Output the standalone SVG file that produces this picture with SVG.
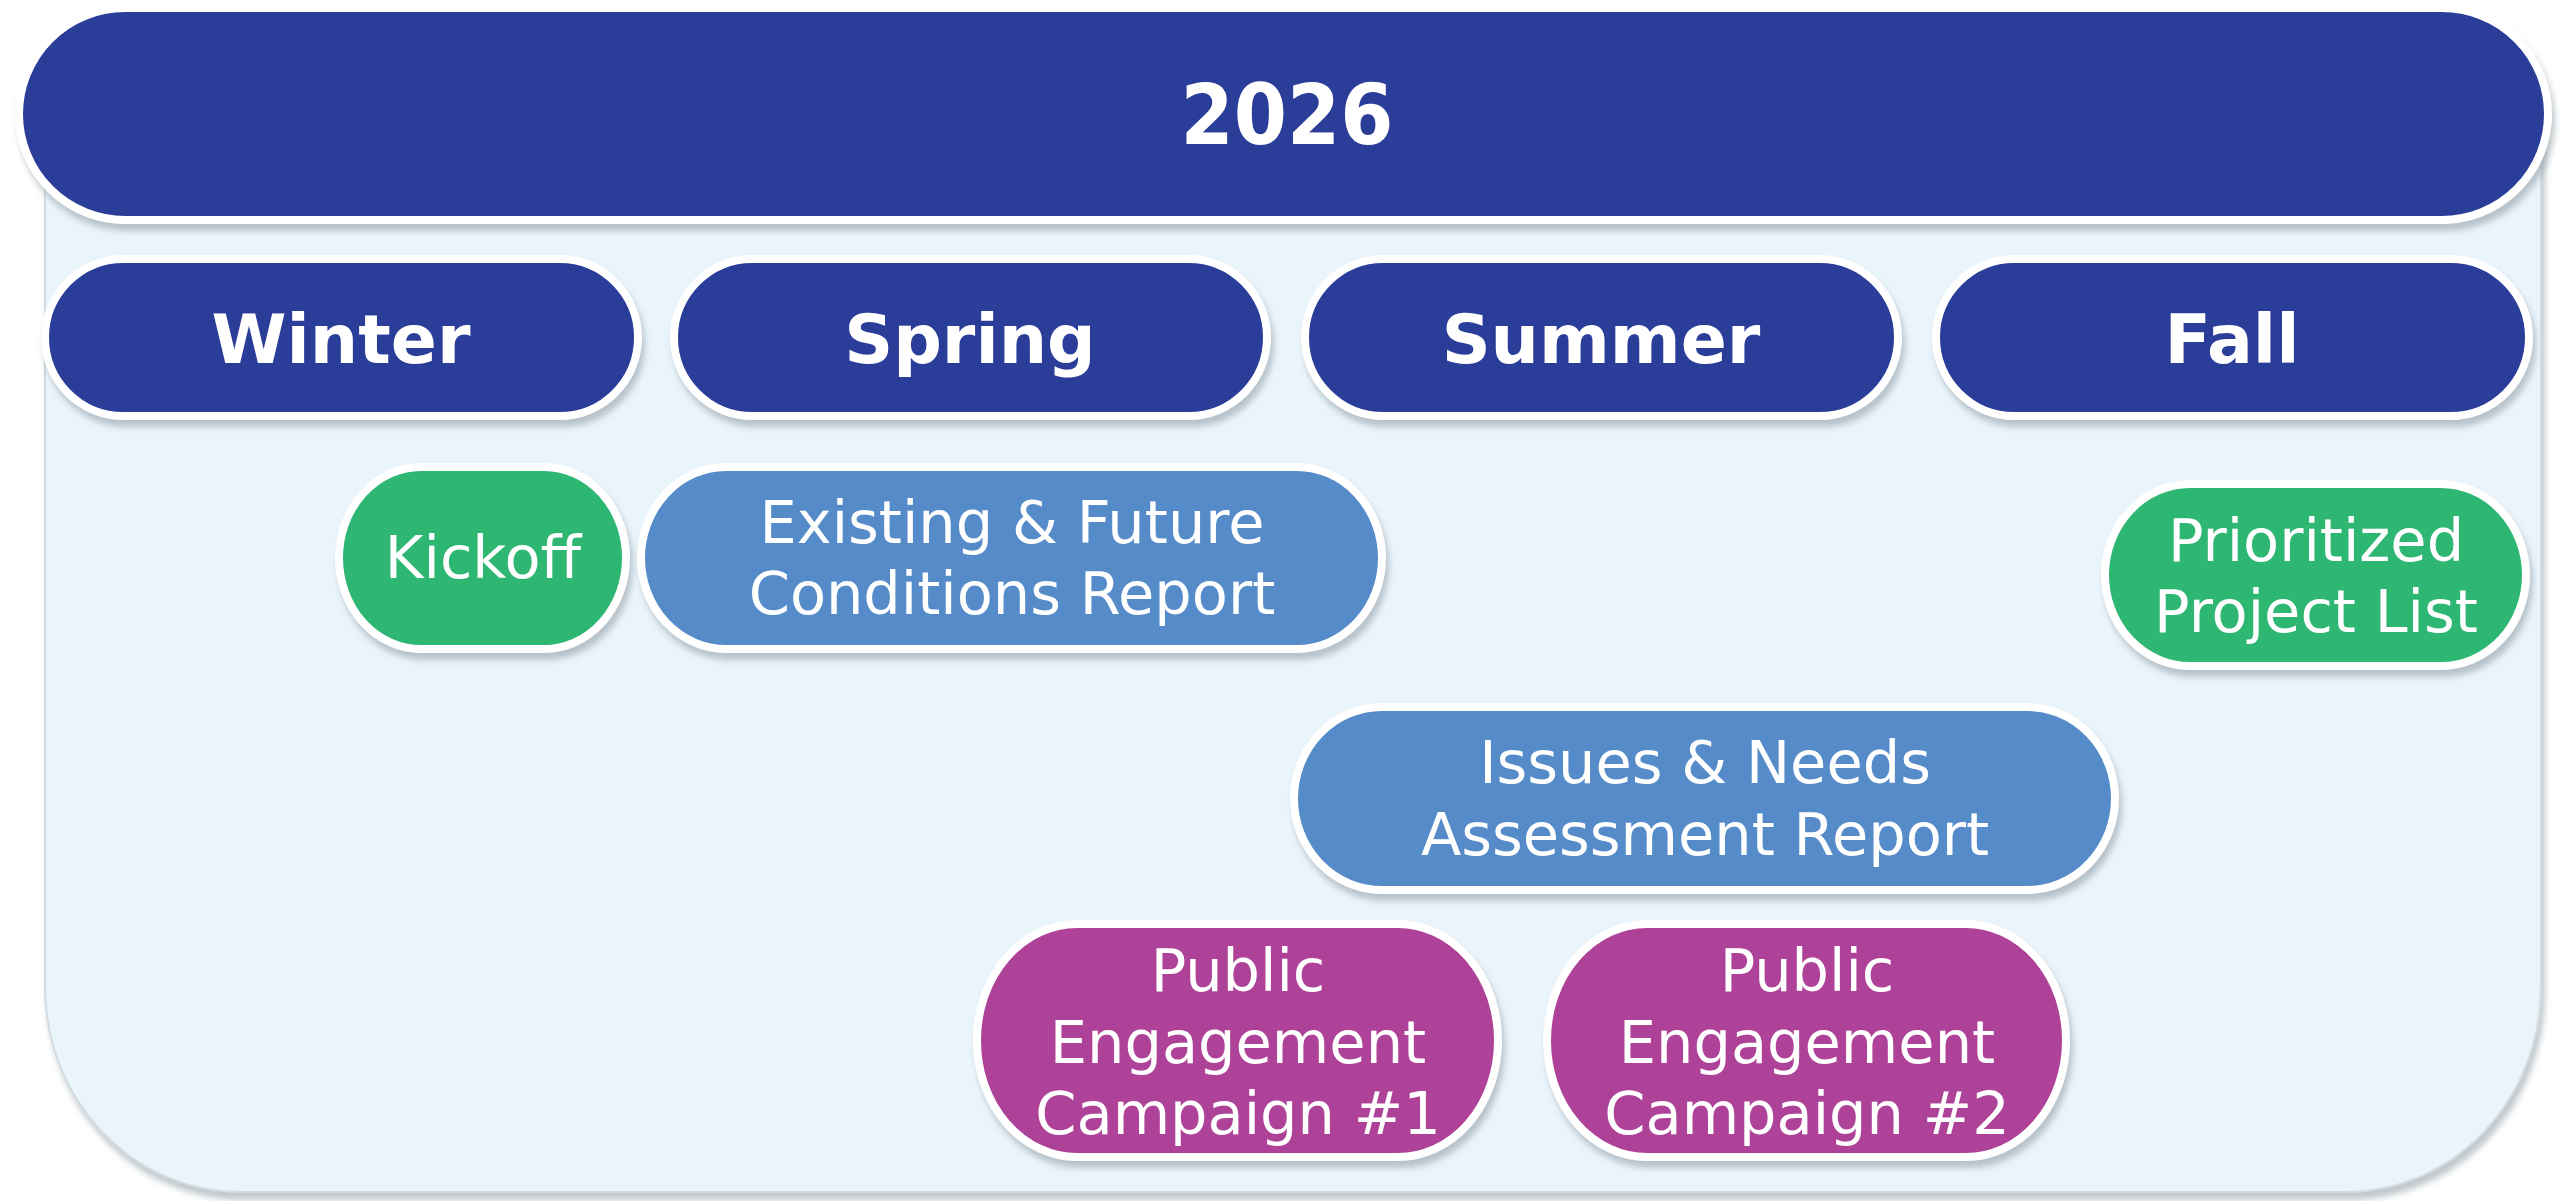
<svg xmlns="http://www.w3.org/2000/svg" width="2560" height="1201" viewBox="0 0 2560 1201">
  <defs>
    <filter id="sh" x="-10%" y="-10%" width="120%" height="130%">
      <feDropShadow dx="3" dy="7" stdDeviation="3" flood-color="#8c9aa3" flood-opacity="0.55"/>
    </filter>
    <style>
      .bg { fill: #eaf4fb; stroke: #d3dce1; stroke-width: 2; }
      .pill { stroke: #ffffff; stroke-width: 8; }
      .navy { fill: #2b3c98; }
      .blue { fill: #548bc9; }
      .green { fill: #2db673; }
      .purple { fill: #ae4398; }
      .t { font-family: "DejaVu Sans", "Liberation Sans", sans-serif; fill: #ffffff; text-anchor: middle; }
      .year { font-size: 83px; font-weight: bold; }
      .season { font-size: 68px; font-weight: bold; }
      .lbl { font-size: 59px; }
    </style>
  </defs>

  <rect width="2560" height="1201" fill="#ffffff"/>

  <g id="panel" filter="url(#sh)">
    <path class="bg" d="M45,100 H2541 V987 A195,205 0 0 1 2346,1192 H240 A195,205 0 0 1 45,987 Z"/>
  </g>

  <g id="year-2026" filter="url(#sh)">
    <rect class="pill navy" x="19" y="8" width="2529" height="212" rx="106"/>
    <text class="t year" x="1287" y="144" textLength="213" lengthAdjust="spacingAndGlyphs">2026</text>
  </g>

  <g id="winter" filter="url(#sh)">
    <rect class="pill navy" x="45" y="259" width="593" height="157" rx="78.5"/>
    <text class="t season" x="341" y="363">Winter</text>
  </g>
  <g id="spring" filter="url(#sh)">
    <rect class="pill navy" x="674" y="259" width="593" height="157" rx="78.5"/>
    <text class="t season" x="970" y="363">Spring</text>
  </g>
  <g id="summer" filter="url(#sh)">
    <rect class="pill navy" x="1305" y="259" width="593" height="157" rx="78.5"/>
    <text class="t season" x="1601" y="363">Summer</text>
  </g>
  <g id="fall" filter="url(#sh)">
    <rect class="pill navy" x="1936" y="259" width="593" height="157" rx="78.5"/>
    <text class="t season" x="2232" y="363">Fall</text>
  </g>

  <g id="kickoff" filter="url(#sh)">
    <rect class="pill green" x="339" y="467" width="287" height="182" rx="82" ry="91"/>
    <text class="t lbl" x="483" y="578">Kickoff</text>
  </g>

  <g id="existing-future" filter="url(#sh)">
    <rect class="pill blue" x="641" y="467" width="741" height="182" rx="85" ry="91"/>
    <text class="t lbl" x="1012" y="543">Existing &amp; Future</text>
    <text class="t lbl" x="1012" y="614">Conditions Report</text>
  </g>

  <g id="prioritized" filter="url(#sh)">
    <rect class="pill green" x="2105" y="484" width="421" height="182" rx="85" ry="91"/>
    <text class="t lbl" x="2316" y="561">Prioritized</text>
    <text class="t lbl" x="2316" y="632">Project List</text>
  </g>

  <g id="issues-needs" filter="url(#sh)">
    <rect class="pill blue" x="1294" y="707" width="821" height="183" rx="88" ry="91.5"/>
    <text class="t lbl" x="1705" y="783">Issues &amp; Needs</text>
    <text class="t lbl" x="1705" y="855">Assessment Report</text>
  </g>

  <g id="public-1" filter="url(#sh)">
    <rect class="pill purple" x="977" y="924" width="521" height="233" rx="100" ry="116"/>
    <text class="t lbl" x="1238" y="991">Public</text>
    <text class="t lbl" x="1238" y="1063">Engagement</text>
    <text class="t lbl" x="1238" y="1134">Campaign #1</text>
  </g>

  <g id="public-2" filter="url(#sh)">
    <rect class="pill purple" x="1547" y="924" width="519" height="233" rx="100" ry="116"/>
    <text class="t lbl" x="1807" y="991">Public</text>
    <text class="t lbl" x="1807" y="1063">Engagement</text>
    <text class="t lbl" x="1807" y="1134">Campaign #2</text>
  </g>

  <g id="connectors"/>
</svg>
